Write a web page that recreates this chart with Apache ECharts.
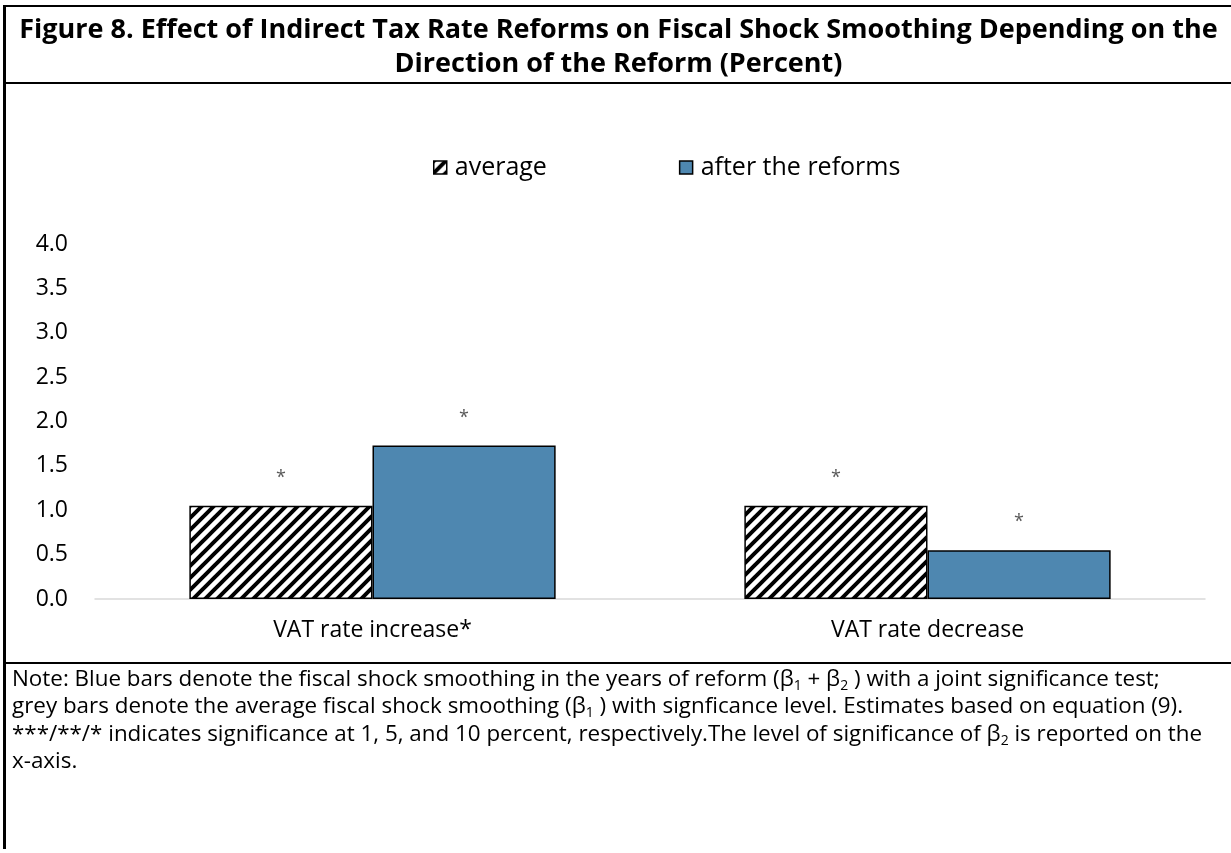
<!DOCTYPE html>
<html>
<head>
<meta charset="utf-8">
<script src="https://cdn.jsdelivr.net/npm/echarts@6/dist/echarts.min.js"></script>
<style>
  html, body { margin: 0; padding: 0; background: #fff; }
  #wrap { position: relative; width: 1231px; height: 853px; overflow: hidden; font-family: "Open Sans", "Noto Sans", sans-serif; }
  #chart { position: absolute; left: 0; top: 0; width: 1231px; height: 853px; }
  .hl { position: absolute; background: #000; }
  #title { position: absolute; left: 6px; width: 1225px; top: 11px; text-align: center; font-weight: 700; font-size: 27px; line-height: 34px; color: #000; white-space: nowrap; letter-spacing: 0px; }
  #note { position: absolute; left: 12px; top: 664px; font-size: 22.4px; line-height: 27.4px; color: #000; white-space: nowrap; }
  #note sub { font-size: 14px; vertical-align: -4px; line-height: 0; }
</style>
</head>
<body>
<div id="wrap">
  <div id="chart"></div>
  <div class="hl" style="left:3px; top:5px; width:1231px; height:2px;"></div>
  <div class="hl" style="left:3px; top:5px; width:2.5px; height:844px;"></div>
  <div class="hl" style="left:3px; top:82px; width:1231px; height:2px;"></div>
  <div class="hl" style="left:3px; top:662px; width:1231px; height:2px;"></div>
  <div id="title">Figure 8. Effect of Indirect Tax Rate Reforms on Fiscal Shock Smoothing Depending on the<br>Direction of the Reform (Percent)</div>
  <div id="note">Note: Blue bars denote the fiscal shock smoothing in the years of reform (β<sub>1</sub> + β<sub>2</sub> ) with a joint significance test;<br>grey bars denote the average fiscal shock smoothing (β<sub>1</sub> ) with signficance level. Estimates based on equation (9).<br>***/**/* indicates significance at 1, 5, and 10 percent, respectively.The level of significance of β<sub>2</sub> is reported on the<br>x-axis.</div>
</div>
<script>
const categories = ["VAT rate increase*", "VAT rate decrease"];
const seriesNames = ["average", "after the reforms"];
const averageValues = [1.05, 1.05];
const afterValues = [1.73, 0.55];
const averageStars = ["*", "*"];
const afterStars = ["*", "*"];
const yTicks = ["0.0", "0.5", "1.0", "1.5", "2.0", "2.5", "3.0", "3.5", "4.0"];

function hatch() {
  const c = document.createElement('canvas');
  c.width = 12; c.height = 12;
  const g = c.getContext('2d');
  g.fillStyle = '#fff'; g.fillRect(0, 0, 12, 12);
  g.strokeStyle = '#000'; g.lineWidth = 4;
  g.beginPath();
  g.moveTo(-6, 18); g.lineTo(18, -6);
  g.moveTo(-18, 18); g.lineTo(6, -6);
  g.moveTo(6, 18); g.lineTo(30, -6);
  g.stroke();
  return c;
}
const hatchFill = { image: hatch(), repeat: 'repeat' };
const blue = '#4E87B0';

const chart = echarts.init(document.getElementById('chart'));
const labelStyle = (stars) => ({
  show: true, position: 'top', distance: 19,
  formatter: p => stars[p.dataIndex],
  fontSize: 18, color: '#595959', fontFamily: 'Open Sans'
});
chart.setOption({
  animation: false,
  legend: {
    top: 150, left: 428,
    itemWidth: 13, itemHeight: 13, itemGap: 132,
    textStyle: { fontSize: 25, color: '#000', fontFamily: 'Open Sans', padding: [0, 0, 0, 3] },
    data: [
      { name: seriesNames[0], icon: 'rect', itemStyle: { color: hatchFill, borderColor: '#000', borderWidth: 1.5 } },
      { name: seriesNames[1], icon: 'rect', itemStyle: { color: blue, borderColor: '#000', borderWidth: 1.5 } }
    ]
  },
  grid: { left: 95, right: 26, top: 244, bottom: 254, containLabel: false },
  xAxis: {
    type: 'category', data: categories,
    axisLine: { lineStyle: { color: '#d9d9d9', width: 1.5 } },
    axisTick: { show: false },
    axisLabel: { fontSize: 23, color: '#000', margin: 20, fontFamily: 'Open Sans' }
  },
  yAxis: {
    type: 'value', min: 0, max: 4, interval: 0.5,
    splitLine: { show: false },
    axisLine: { show: false }, axisTick: { show: false },
    axisLabel: { fontSize: 23, color: '#000', margin: 27, fontFamily: 'Open Sans',
      formatter: (v) => yTicks[Math.round(v / 0.5)] }
  },
  series: [
    { name: seriesNames[0], type: 'bar', data: averageValues, barGap: '0%', barCategoryGap: '34%',
      itemStyle: { color: hatchFill, borderColor: '#000', borderWidth: 1.5 },
      label: labelStyle(averageStars) },
    { name: seriesNames[1], type: 'bar', data: afterValues,
      itemStyle: { color: blue, borderColor: '#000', borderWidth: 1.5 },
      label: labelStyle(afterStars) }
  ]
});
</script>
</body>
</html>
